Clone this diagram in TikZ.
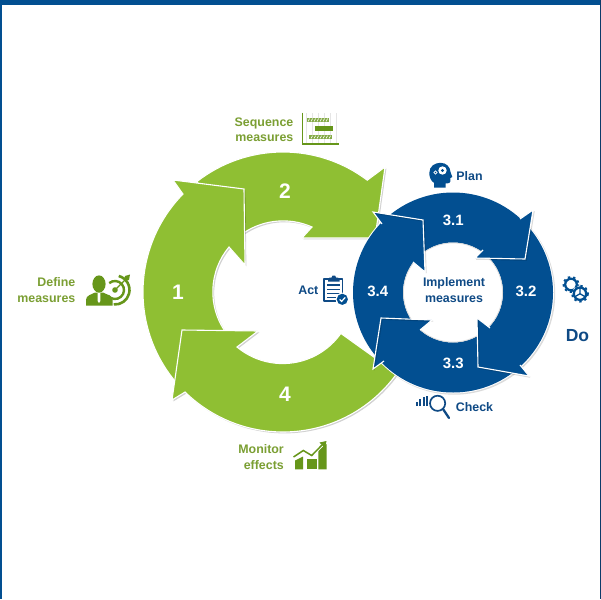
\documentclass[tikz,border=0pt]{standalone}
\usepackage{fontspec}
\setmainfont{Liberation Sans}
\definecolor{ringgreen}{HTML}{8FBF33}
\definecolor{labelgreen}{HTML}{7B9F33}
\definecolor{icongreen}{HTML}{66961A}
\definecolor{ringblue}{HTML}{024F91}
\definecolor{labelblue}{HTML}{0F4A85}
\tikzset{
  shadowfill/.style={fill=black,fill opacity=.18,draw=none,shift={(1.4,1.4)}},
  shadowline/.style={draw=black,draw opacity=.14,line width=1.1pt,shift={(1.2,1.2)}},
  greenarrow/.style={fill=ringgreen,draw=white,line width=1.1pt,line join=miter},
  whiteedge/.style={draw=white,line width=1.1pt,line join=miter},
  numlabel/.style={text=white,font=\bfseries\fontsize{15}{15}\selectfont,inner sep=0pt},
  biglabel/.style={text=white,font=\bfseries\fontsize{21}{21}\selectfont,inner sep=0pt},
  greenlabel/.style={text=labelgreen,font=\bfseries\fontsize{12.4}{12.4}\selectfont,inner sep=0pt,anchor=mid east,yshift=-1.8pt},
  bluelabel/.style={text=labelblue,font=\bfseries\fontsize{12.4}{12.4}\selectfont,inner sep=0pt,anchor=mid,yshift=-1.8pt},
  gearline/.style={draw=ringblue,line width=2.3pt,line join=round},
  gearteeth/.style={draw=ringblue,line width=1.7pt,dash pattern=on 2.4pt off 3pt},
}
\newcommand{\arrowtwo}{(283,292) ++(-128:140) arc[start angle=-128,end angle=-53,radius=140] -- (385,167) -- (375,238) -- (302,238) -- (312,227) arc[start angle=-66,end angle=-128,radius=71] -- cycle}
\newcommand{\arrowone}{(283,292) ++(138:140) arc[start angle=138,end angle=224.4,radius=140] -- (173,180) -- (244,189) -- (245,265) -- (229,247) arc[start angle=219.8,end angle=145,radius=70] -- cycle}
\newcommand{\arrowfour}{(283,292) ++(35.6:70) -- ++(35.6:70) arc[start angle=35.6,end angle=134.4,radius=140] -- (172,400) -- (182,330) -- (258,331) -- (237,347) arc[start angle=129.9,end angle=35.6,radius=71.2] -- cycle}
\newcommand{\bluehead}[5]{%
  \path[fill=ringblue] #1 -- #2 -- #3 -- #4 -- #5 -- cycle;
  \draw[shadowline] #2 -- #3 -- #4;
  \draw[whiteedge] #1 -- #2 -- #3 -- #4 -- #5;
}
\begin{document}
\begin{tikzpicture}[x=1pt,y=-1pt]
\useasboundingbox (0,0) rectangle (601,599);
\fill[white] (0,0) rectangle (601,599);
% frame
\fill[ringblue] (0,0) rectangle (601,5);
\fill[ringblue] (0,0) rectangle (2,599);
\fill[labelblue!80!black] (600,0) rectangle (601,599);
% green cycle
\path[shadowfill] \arrowtwo;
\path[greenarrow] \arrowtwo;
\path[shadowfill] \arrowone;
\path[greenarrow] \arrowone;
\path[shadowfill] \arrowfour;
\path[greenarrow] \arrowfour;
% blue ring
\path[fill=black,fill opacity=.14,shift={(1.2,1.2)}] (453,292.5) circle[radius=101];
\path[fill=white] (453,292.5) circle[radius=101];
\path[fill=ringblue,even odd rule] (453,292.5) circle[radius=100] (453,292.5) circle[radius=50];
\draw[draw=black!14,line width=.8pt] (453,292.5) circle[radius=49.6];
\bluehead{(520,219)}{(533,210)}{(525,259)}{(475,258)}{(483,250)}
\bluehead{(490,328)}{(477,318)}{(478,367)}{(529,376)}{(520,365)}
\bluehead{(420,330)}{(432,320)}{(381,318)}{(373,369)}{(384,361)}
\bluehead{(382,224)}{(373,212)}{(423,220)}{(425,272)}{(413,262)}
% numbers
\node[biglabel] (n1) at (178,292) {1};
\node[biglabel] (n2) at (285,191.5) {2};
\node[biglabel] (n4) at (285,394.5) {4};
\node[numlabel] (n31) at (453.3,220.7) {3.1};
\node[numlabel] (n32) at (526,291.7) {3.2};
\node[numlabel] (n33) at (453.3,363.3) {3.3};
\node[numlabel] (n34) at (377.7,291.7) {3.4};
% labels
\node[greenlabel] (seqa) at (293.5,121.7) {Sequence};
\node[greenlabel] (seqb) at (293.5,137.3) {measures};
\node[greenlabel] (defa) at (75.5,282) {Define};
\node[greenlabel] (defb) at (75.5,297.7) {measures};
\node[greenlabel] (mona) at (284,449.3) {Monitor};
\node[greenlabel] (monb) at (284,465) {effects};
\node[bluelabel] (act) at (308.3,290) {Act};
\node[bluelabel] (plan) at (469.5,175.7) {Plan};
\node[bluelabel] (check) at (474.5,407.3) {Check};
\node[bluelabel] (impa) at (454,282.3) {Implement};
\node[bluelabel] (impb) at (454,297.7) {measures};
\node[text=labelblue,font=\bfseries\fontsize{17.5}{17.5}\selectfont,inner sep=0pt] (do) at (577.5,335.7) {Do};
% icon: sequence
\foreach \gx in {306,312,318,324,330,336}{\draw[black!10,line width=.5pt] (\gx,113) -- (\gx,143);}
\draw[icongreen,line width=1.8pt,line join=miter] (302.5,112.5) -- (302.5,144.3) -- (338.5,144.3);
\fill[icongreen!80] (306.7,117.7) rectangle (329,122.3);
\fill[icongreen] (315.3,126) rectangle (332.7,130.7);
\fill[icongreen!80] (309.3,135) rectangle (331.7,139.3);
\foreach \hx in {308,311,314,317,320,323,326}{\draw[white,line width=.6pt] (\hx,121.5) -- (\hx+1.6,118.5);}
\foreach \hx in {311,314,317,320,323,326,329}{\draw[white,line width=.6pt] (\hx,138.5) -- (\hx+1.6,135.7);}
% icon: define (person and target)
\fill[icongreen] (99,284) ellipse[x radius=6.6,y radius=8.6];
\fill[icongreen] (86,305.5) -- (86,300) .. controls (86,295) and (92,294.5) .. (95,292.5) -- (103,292.5) .. controls (106,294.5) and (112.5,295) .. (112.5,300) -- (112.5,305.5) -- cycle;
\fill[white] (97.6,293) -- (100.4,293) -- (100.4,301) -- (99,303) -- (97.6,301) -- cycle;
\draw[icongreen,line width=2.6pt] (115,290) ++(-75:14.5) arc[start angle=-75,end angle=95,radius=14.5];
\draw[icongreen,line width=2.4pt] (115,290) ++(-130:9) arc[start angle=-130,end angle=140,radius=9];
\fill[icongreen] (115,290) circle[radius=2.8];
\draw[icongreen,line width=1.4pt] (115,290) -- (127,278);
\fill[icongreen] (125,276) -- (130,274.5) -- (129,280) -- (126.5,280.5) -- (124.5,278.5) -- cycle;
% icon: monitor
\fill[icongreen] (295,460.5) -- (303,456.5) -- (303,469.3) -- (295,469.3) -- cycle;
\fill[icongreen] (307.3,458.5) rectangle (316.5,469.3);
\fill[icongreen] (318.3,449) -- (326.7,444) -- (326.7,469.3) -- (318.3,469.3) -- cycle;
\draw[white,line width=3.2pt] (293.5,457) -- (303.3,450.5) -- (311.7,455.5) -- (322,445);
\draw[icongreen,line width=1.5pt] (293.5,457) -- (303.3,450.5) -- (311.7,455.5) -- (322,445);
\fill[icongreen] (319.5,442.5) -- (326.5,441) -- (325,448) -- cycle;
% icon: act
\draw[labelblue,line width=1.6pt,line join=round] (324.2,278.8) rectangle (342.5,301);
\fill[labelblue] (328,279.5) -- (329.5,277.5) -- (331.5,277.5) -- (332.5,275.5) -- (335,275.5) -- (336,277.5) -- (338,277.5) -- (339.5,279.5) -- (339.5,281.5) -- (328,281.5) -- cycle;
\foreach \ly in {285,289.3,293.3,297.3}{\draw[labelblue,line width=1.1pt] (327,\ly) -- (340,\ly);}
\fill[white] (342.3,299.3) circle[radius=6.6];
\fill[ringblue] (342.3,299.3) circle[radius=5.6];
\draw[white,line width=1.2pt] (339.6,299.4) -- (341.6,301.4) -- (345.2,297.4);
% icon: plan (head with gears)
\fill[ringblue] (434,187.5) -- (434,183) .. controls (430,180) and (429.3,176) .. (429.3,173) .. controls (429.3,166) and (435,162.8) .. (440.5,162.8) .. controls (446.5,162.8) and (450.2,167) .. (450.5,172) -- (452.3,177) -- (450.3,178) -- (450.3,181.5) .. controls (450.3,183.5) and (448.5,183.5) .. (445.5,183.3) -- (445.5,187.5) -- cycle;
\fill[white] (442.5,170.5) circle[radius=4.2];
\fill[ringblue] (442.5,170.5) circle[radius=1.7];
\draw[white,line width=.8pt] (435.5,172.5) circle[radius=1.6];
% icon: do (gears)
\draw[gearteeth] (571,284.5) circle[radius=7.6];
\draw[gearline] (571,284.5) circle[radius=5.8];
\fill[white] (580,293.7) circle[radius=8.2];
\draw[gearteeth] (580,293.7) circle[radius=8];
\draw[gearline] (580,293.7) circle[radius=6.2];
\draw[ringblue,line width=1.3pt] (580,293.7) -- (580,287) (580,293.7) -- (574.5,297) (580,293.7) -- (585.5,297);
% icon: check
\foreach \bx/\by in {417/401.7,420.3/399.3,423.7/397.3,427/396}{\draw[labelblue,line width=1.9pt] (\bx,406) -- (\bx,\by);}
\draw[labelblue,line width=1.7pt] (437.6,403.3) circle[radius=7.6];
\draw[labelblue,line width=2.3pt,line cap=round] (443,409) -- (449,418);
\end{tikzpicture}
\end{document}
